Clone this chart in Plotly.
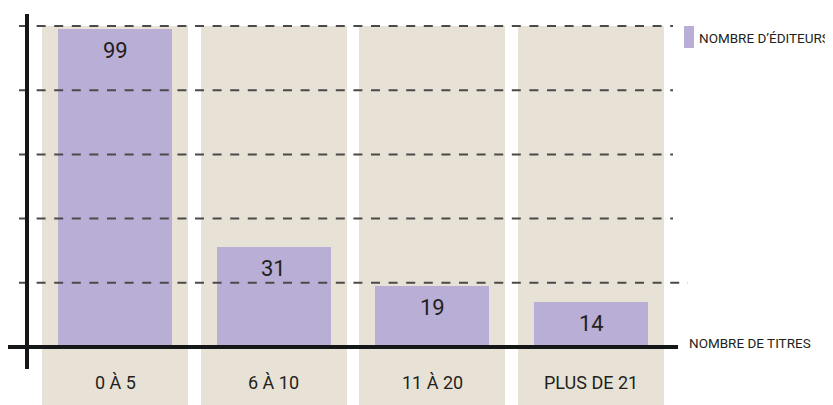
import plotly.graph_objects as go

# ---- data ----
categories = ["0 À 5", "6 À 10", "11 À 20", "PLUS DE 21"]
editeurs = [99, 31, 19, 14]
grid_values = [20, 40, 60, 80, 100]
series_name = "NOMBRE D\u2019ÉDITEURS"
x_title = "NOMBRE DE TITRES"

# ---- style ----
OFF = 8                      # page body margin
W, H = 833 - OFF, 405 - OFF  # figure size so the page fits the window
FONT = "Roboto, Liberation Sans, sans-serif"
TXT = "#231f20"
PURPLE = "#b9aed5"
BEIGE = "#e8e2d6"
AXIS = "#141618"
GRID = "#4a4a4a"

# axis ranges so that categories and values land where the original puts them
step = 158.67
x0 = -(115 - OFF) / step
x_range = [x0, x0 + W / step]
ppu = 3.21
base_px = 347 - OFF
y_range = [-(H - base_px) / ppu, base_px / ppu]

fig = go.Figure()

# background columns
fig.add_trace(go.Bar(
    x=categories, y=[max(grid_values) - y_range[0]] * len(categories), base=y_range[0],
    width=0.92, marker=dict(color=BEIGE, line=dict(width=0)),
    hoverinfo="skip", showlegend=False,
))
# data bars
fig.add_trace(go.Bar(
    x=categories, y=editeurs, name=series_name,
    width=0.7185, marker=dict(color=PURPLE, line=dict(width=0)),
    hoverinfo="x+y", showlegend=False,
))


def px(x):
    return (x - OFF) / W


def py(y):
    return 1 - (y - OFF) / H


shapes = []
for v in grid_values:
    shapes.append(dict(
        type="line", xref="paper", yref="y",
        x0=px(19), x1=px(688 if v == min(grid_values) else 673), y0=v, y1=v,
        line=dict(color=GRID, width=2, dash="9px,8.6px"), layer="above",
    ))
# vertical axis
shapes.append(dict(type="line", xref="paper", yref="paper",
                   x0=px(27), x1=px(27), y0=py(14), y1=py(369),
                   line=dict(color=AXIS, width=4), layer="above"))
# horizontal axis
shapes.append(dict(type="line", xref="paper", yref="y",
                   x0=px(8), x1=px(678), y0=0, y1=0,
                   line=dict(color=AXIS, width=4), layer="above"))
# legend swatch
shapes.append(dict(type="rect", xref="paper", yref="paper",
                   x0=px(684), x1=px(694), y0=py(48), y1=py(26),
                   fillcolor=PURPLE, line=dict(width=0), layer="above"))

annotations = []
# value labels near the top of each bar
for c, v in zip(categories, editeurs):
    annotations.append(dict(
        x=c, xref="x", y=v, yref="y", text=str(v), showarrow=False,
        xanchor="center", yanchor="middle", yshift=-21,
        font=dict(family=FONT, size=22, color=TXT),
    ))
# category labels
for c in categories:
    annotations.append(dict(
        x=c, xref="x", y=py(382), yref="paper", text=c, showarrow=False,
        xanchor="center", yanchor="middle",
        font=dict(family=FONT, size=18, color=TXT),
    ))
annotations.append(dict(
    x=px(697), y=py(38), xref="paper", yref="paper", text=series_name,
    showarrow=False, xanchor="left", yanchor="middle",
    font=dict(family=FONT, size=13.5, color=TXT),
))
annotations.append(dict(
    x=px(687), y=py(343), xref="paper", yref="paper", text=x_title,
    showarrow=False, xanchor="left", yanchor="middle",
    font=dict(family=FONT, size=13.5, color=TXT),
))

fig.update_layout(
    width=W, height=H,
    margin=dict(l=0, r=0, t=0, b=0),
    paper_bgcolor="white", plot_bgcolor="rgba(0,0,0,0)",
    barmode="overlay", bargap=0,
    xaxis=dict(visible=False, range=x_range, fixedrange=True),
    yaxis=dict(visible=False, range=y_range, fixedrange=True),
    shapes=shapes, annotations=annotations,
    showlegend=False,
    font=dict(family=FONT, color=TXT),
)

fig.write_html("out.html")
